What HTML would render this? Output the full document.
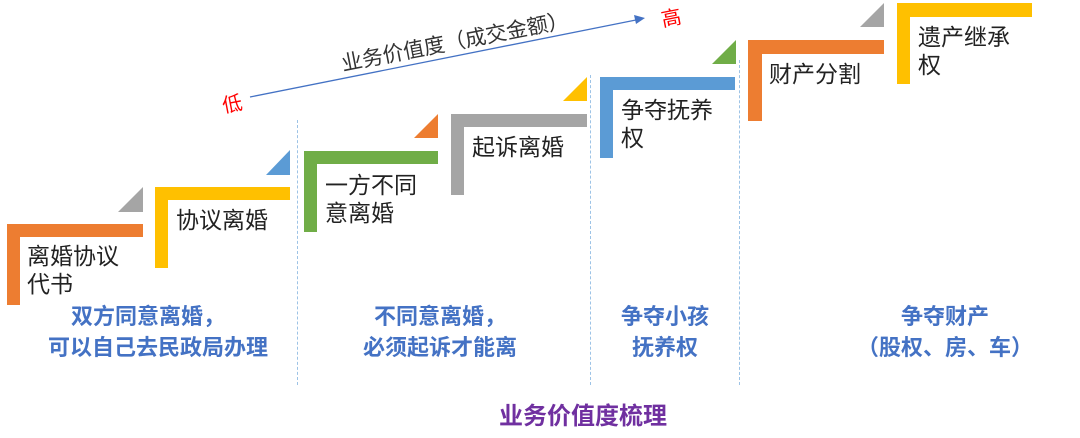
<!DOCTYPE html>
<html><head><meta charset="utf-8"><style>
body{margin:0;width:1080px;height:438px;background:#fff;position:relative;overflow:hidden;font-family:"Liberation Sans","Noto Sans CJK SC",sans-serif}
.t{position:absolute;font-size:23px;line-height:28px;color:#222;white-space:nowrap}
.b{position:absolute;font-size:22px;line-height:31px;color:#4472C4;font-weight:bold;text-align:center;white-space:nowrap}
.d{position:absolute;width:0;border-left:1.5px dashed #9dc3e6}
</style></head><body>
<svg width="1080" height="438" style="position:absolute;left:0;top:0">
<g>
<path d="M7 224H143V237H20V305H7Z" fill="#ED7D31"/>
<path d="M155 187H290V200H168V268H155Z" fill="#FFC000"/>
<path d="M304 151H438V164H317V232H304Z" fill="#70AD47"/>
<path d="M451 114H587V127H464V195H451Z" fill="#A5A5A5"/>
<path d="M600 77H735V90H613V158H600Z" fill="#5B9BD5"/>
<path d="M748 40H884V54H762V121H748Z" fill="#ED7D31"/>
<path d="M897 3H1032V17H910V84H897Z" fill="#FFC000"/>
<polygon points="118,212 143,212 143,187" fill="#A5A5A5"/>
<polygon points="266,175 290,175 290,150" fill="#5B9BD5"/>
<polygon points="414,138 438,138 438,114" fill="#ED7D31"/>
<polygon points="563,101 587,101 587,77" fill="#FFC000"/>
<polygon points="712,64 736,64 736,40" fill="#70AD47"/>
<polygon points="860,27 884,27 884,3" fill="#A5A5A5"/>
</g>
<line x1="250" y1="97" x2="636" y2="20" stroke="#4472C4" stroke-width="1.3"/>
<polygon points="645,18 634,15 636,24" fill="#4472C4"/>
<text x="455" y="49" transform="rotate(-11 455 42)" font-size="21" text-anchor="middle" fill="#333" font-family="Liberation Sans,Noto Sans CJK SC,sans-serif">业务价值度（成交金额）</text>
<text x="232" y="111" transform="rotate(-11 232 103)" font-size="20" text-anchor="middle" fill="#f00" font-family="Liberation Sans,Noto Sans CJK SC,sans-serif">低</text>
<text x="671" y="25" transform="rotate(-11 671 17)" font-size="20" text-anchor="middle" fill="#f00" font-family="Liberation Sans,Noto Sans CJK SC,sans-serif">高</text>
</svg>
<div class="d" style="left:297px;top:120px;height:265px"></div>
<div class="d" style="left:590px;top:75px;height:310px"></div>
<div class="d" style="left:739px;top:60px;height:325px"></div>
<div class="t" style="left:27px;top:242px">离婚协议<br>代书</div>
<div class="t" style="left:176px;top:206px">协议离婚</div>
<div class="t" style="left:325px;top:171px">一方不同<br>意离婚</div>
<div class="t" style="left:472px;top:133px">起诉离婚</div>
<div class="t" style="left:621px;top:96px">争夺抚养<br>权</div>
<div class="t" style="left:769px;top:60px">财产分割</div>
<div class="t" style="left:918px;top:23px">遗产继承<br>权</div>
<div class="b" style="left:48px;width:200px;top:301px">双方同意离婚，<br>可以自己去民政局办理</div>
<div class="b" style="left:340px;width:200px;top:301px">不同意离婚，<br>必须起诉才能离</div>
<div class="b" style="left:565px;width:200px;top:301px">争夺小孩<br>抚养权</div>
<div class="b" style="left:845px;width:200px;top:301px">争夺财产<br>（股权、房、车）</div>
<div class="b" style="left:483px;width:200px;top:401px;color:#7030A0;font-size:24px">业务价值度梳理</div>
</body></html>
